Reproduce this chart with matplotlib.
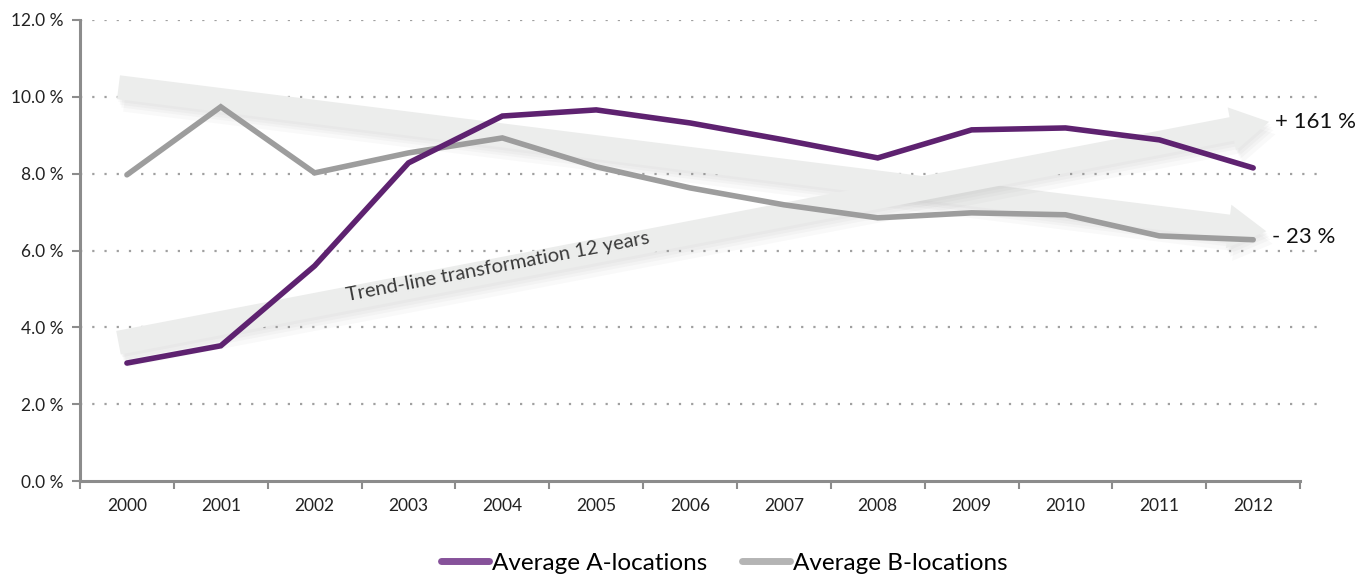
import numpy as np
import matplotlib.pyplot as plt
from matplotlib.patches import Polygon
from matplotlib.lines import Line2D
import matplotlib.patheffects as pe

# data
years = ['2000', '2001', '2002', '2003', '2004', '2005', '2006',
         '2007', '2008', '2009', '2010', '2011', '2012']
avg_a = [3.07, 3.52, 5.60, 8.28, 9.50, 9.66, 9.32, 8.88, 8.41, 9.14, 9.19, 8.88, 8.15]
avg_b = [7.97, 9.74, 8.02, 8.54, 8.93, 8.18, 7.63, 7.19, 6.85, 6.98, 6.93, 6.38, 6.28]
yticks = [0, 2, 4, 6, 8, 10, 12]
change_a = '+ 161 %'
change_b = '- 23 %'

purple = '#5e2270'
grey = '#9d9d9d'
axis_col = '#8c8c8c'

plt.rcParams['font.family'] = ['Lato', 'DejaVu Sans']

fig = plt.figure(figsize=(13.64, 5.81), dpi=100)
W, H = 1364, 581
ax = fig.add_axes([80 / W, 1 - 481 / H, (1317 - 80) / W, (481 - 20) / H])

x = np.arange(len(years))
ax.set_xlim(-0.5, 12.68)
ax.set_ylim(0, 12)

# grid
for v in yticks[1:]:
    ax.axhline(v, color='#a0a0a0', lw=1.6, ls=(0, (1, 4.5)), zorder=1)

# spines / ticks
for s in ['top', 'right']:
    ax.spines[s].set_visible(False)
ax.spines['left'].set_color(axis_col)
ax.spines['bottom'].set_color(axis_col)
ax.spines['left'].set_linewidth(2.2)
ax.spines['bottom'].set_linewidth(2.2)
ax.spines['bottom'].set_bounds(-0.5, 12.5)

ax.set_yticks(yticks)
ax.set_yticklabels([f'{v:.1f} %' for v in yticks], fontsize=12.5, color='#222222')
ax.tick_params(axis='y', length=6, width=1.5, color=axis_col, pad=6)
ax.set_xticks(x)
ax.set_xticklabels(years, fontsize=12.5, color='#222222')
ax.tick_params(axis='x', length=0, pad=12)
ax.set_xticks(np.arange(-0.5, 13, 1), minor=True)
ax.tick_params(axis='x', which='minor', length=6, width=1.5, color=axis_col)


def arrow(p0, p1, body, head_w, head_l):
    # build the arrow in pixel space so it keeps its shape, then back to data
    fig.canvas.draw()
    t = ax.transData
    a = t.transform(p0)
    b = t.transform(p1)
    d = (b - a) / np.linalg.norm(b - a)
    n = np.array([-d[1], d[0]])
    hb = b - d * head_l
    pts = [a + n * body / 2, hb + n * body / 2, hb + n * head_w / 2, b,
           hb - n * head_w / 2, hb - n * body / 2, a - n * body / 2]
    pts = t.inverted().transform(np.array(pts))
    shadows = [pe.SimplePatchShadow(offset=(o * 0.5, -o), shadow_rgbFace='#909090', alpha=0.05)
               for o in (2, 4, 6, 9)]
    poly = Polygon(pts, closed=True, facecolor='#ecedec', edgecolor='none', zorder=2,
                   path_effects=shadows + [pe.Normal()])
    ax.add_patch(poly)


# trend arrows (annotation shapes, placed in data space)
arrow((-0.09, 10.25), (12.14, 6.5), 24, 44, 38)
arrow((-0.09, 3.6), (12.17, 9.35), 24, 44, 38)

ax.text(3.95, 5.57, 'Trend-line transformation 12 years', fontsize=14.5, color='#3a3a3a',
        rotation=10.8, rotation_mode='anchor', ha='center', va='center', zorder=3)

ax.plot(x, avg_b, color=grey, lw=4, solid_capstyle='round', solid_joinstyle='miter', zorder=4)
ax.plot(x, avg_a, color=purple, lw=4, solid_capstyle='round', solid_joinstyle='miter', zorder=5)

ax.text(12.23, 9.35, change_a, fontsize=16, color='#111111', va='center', ha='left')
ax.text(12.2, 6.35, change_b, fontsize=16, color='#111111', va='center', ha='left')

handles = [Line2D([], [], color='#86529a', lw=5, solid_capstyle='round'),
           Line2D([], [], color='#b4b4b4', lw=5, solid_capstyle='round')]
fig.legend(handles, ['Average A-locations', 'Average B-locations'], loc='center',
           bbox_to_anchor=(0.531, 1 - 563 / H), ncol=2, frameon=False, fontsize=17.5,
           handlelength=2.0, handletextpad=0.12, columnspacing=1.4)

fig.savefig('out.png', dpi=100)
